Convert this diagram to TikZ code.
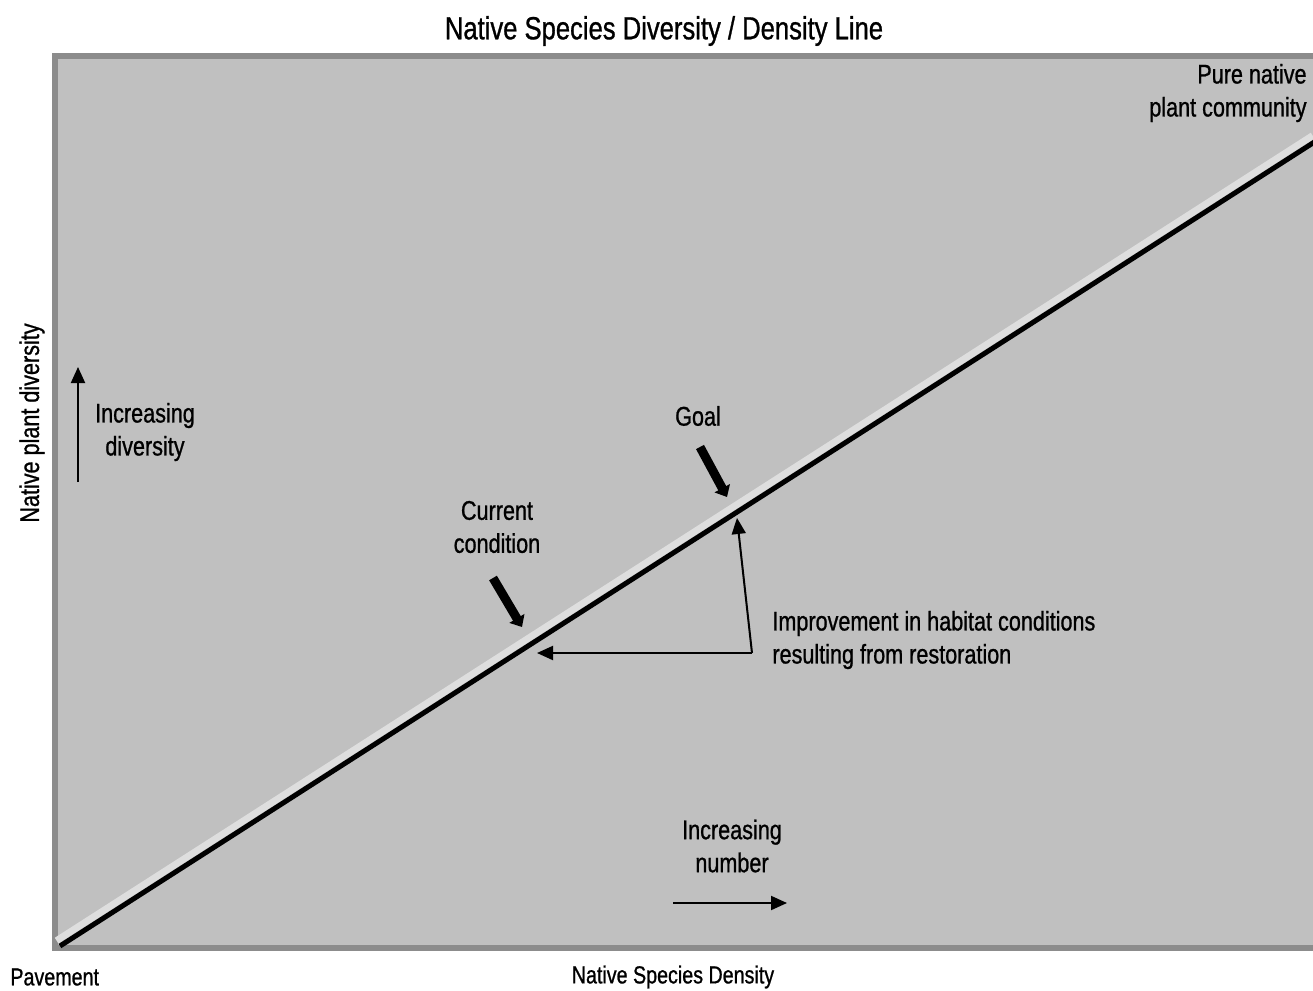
\documentclass[tikz,border=0pt]{standalone}
\usepackage{fontspec}
\setmainfont{Liberation Sans}[FakeStretch=0.8, FakeBold=0.9]
\usetikzlibrary{arrows.meta}
\definecolor{panelgray}{RGB}{192,192,192}
\definecolor{framegray}{RGB}{140,140,140}
\definecolor{stripegray}{RGB}{222,222,222}
\tikzset{
  lbl/.style={align=center, inner sep=0pt, font=\fontsize{13.5}{16.5}\selectfont},
  axislbl/.style={lbl, font=\fontsize{12.3}{15}\selectfont},
  thin arrow/.style={-{Triangle[length=8pt,width=7pt]}, line width=1pt},
  fat arrow/.style={-{Triangle[length=5pt,width=8.5pt]}, line width=4.5pt},
}
\begin{document}
\begin{tikzpicture}[x=0.5pt, y=-0.5pt]
        \useasboundingbox (0,0) rectangle (1313,991);
        % Panel
        \draw[fill=panelgray, draw=framegray, line width=3pt] (55,56) rectangle (1320,948);

        % Define nodes
        \node[lbl, font=\fontsize{16}{19}\selectfont] (title) at (664,31) {Native Species Diversity / Density Line};
        \node[lbl, anchor=east, align=right] (pure) at (1307,93) {Pure native\\plant community};
        \node[lbl, rotate=90] (yaxis) at (32,423) {Native plant diversity};
        \node[axislbl, anchor=west] (pave) at (10,977) {Pavement};
        \node[axislbl] (xaxis) at (673,977) {Native Species Density};
        \node[lbl] (incdiv) at (145,432) {Increasing\\diversity};
        \node[lbl] (incnum) at (732,846) {Increasing\\number};
        \node[lbl] (goal) at (698,416) {Goal};
        \node[lbl] (current) at (497,527) {Current\\condition};
        \node[lbl, anchor=west, align=left] (improve) at (772,640) {Improvement in habitat conditions\\resulting from restoration};

        \coordinate (lo) at (60,946);
        \coordinate (hi) at (1316,141);
        \coordinate (goaltail) at (700,447);
        \coordinate (goaltip) at (727,497);
        \coordinate (curtail) at (493,578);
        \coordinate (curtip) at (522,627);
        \coordinate (corner) at (752,653);
        \coordinate (goalpt) at (737,518);
        \coordinate (curpt) at (537,653);
        \coordinate (divlo) at (78,482);
        \coordinate (divhi) at (78,367);
        \coordinate (numlo) at (673,903);
        \coordinate (numhi) at (787,903);

        % Draw edges
        \draw[stripegray, line width=3.4pt] ([shift={(-3.4,-5.4)}]lo) -- ([shift={(-3.4,-5.4)}]hi);
        \draw[black, line width=2.5pt] (lo) -- (hi);
        \draw[fat arrow] (goaltail) -- (goaltip);
        \draw[fat arrow] (curtail) -- (curtip);
        \draw[thin arrow] (corner) -- (goalpt);
        \draw[thin arrow] (corner) -- (curpt);
        \draw[thin arrow] (divlo) -- (divhi);
        \draw[thin arrow] (numlo) -- (numhi);
    \end{tikzpicture}
\end{document}
